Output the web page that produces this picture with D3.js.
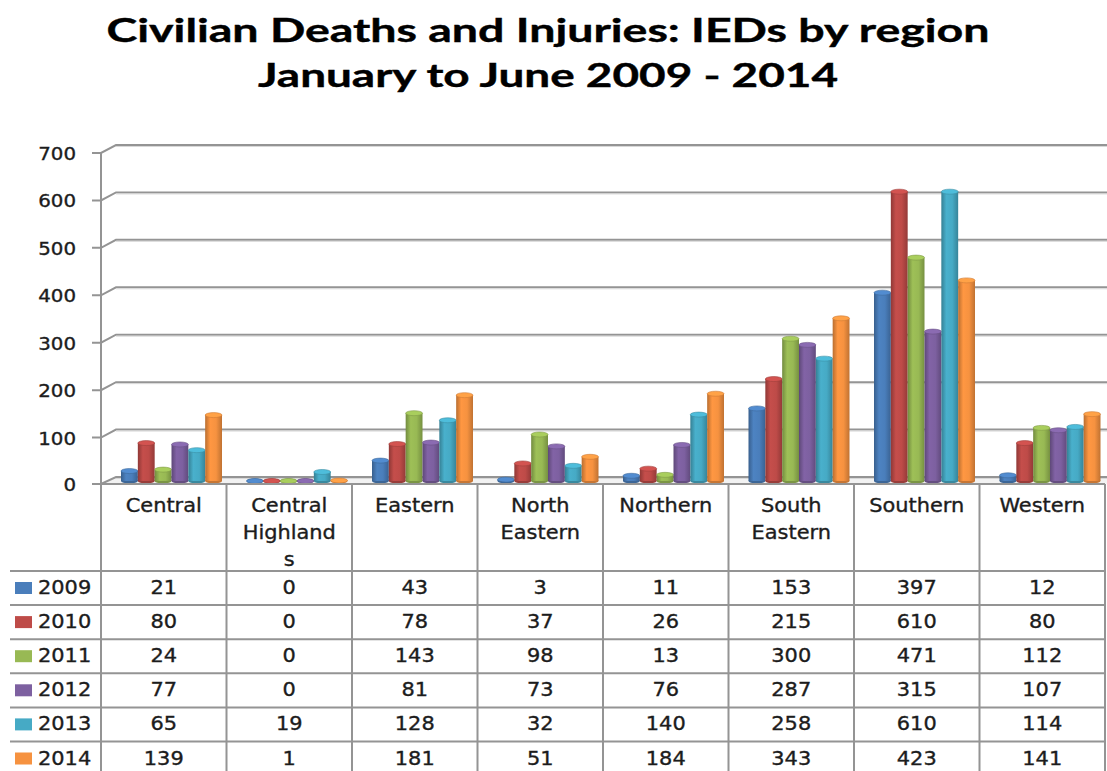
<!DOCTYPE html>
<html>
<head>
<meta charset="utf-8">
<script src="https://cdn.jsdelivr.net/npm/d3@7"></script>
<style>
  body { margin: 0; background: #fff; }
  text { font-family: "DejaVu Sans", sans-serif; fill: #1c1c1c; stroke: #1c1c1c; stroke-width: 0.35px; }
  .title { font-family: Lato, "Open Sans", sans-serif; font-weight: 700; fill: #000; stroke: #000; stroke-width: 0.4px; }
</style>
</head>
<body>
<svg width="1107" height="771"></svg>
<script>
var regions = ["Central", "Central Highlands", "Eastern", "North Eastern", "Northern", "South Eastern", "Southern", "Western"];
var regionLabels = [["Central"], ["Central", "Highland", "s"], ["Eastern"], ["North", "Eastern"], ["Northern"], ["South", "Eastern"], ["Southern"], ["Western"]];
var years = ["2009", "2010", "2011", "2012", "2013", "2014"];
var v2009 = [21, 0, 43, 3, 11, 153, 397, 12];
var v2010 = [80, 0, 78, 37, 26, 215, 610, 80];
var v2011 = [24, 0, 143, 98, 13, 300, 471, 112];
var v2012 = [77, 0, 81, 73, 76, 287, 315, 107];
var v2013 = [65, 19, 128, 32, 140, 258, 610, 114];
var v2014 = [139, 1, 181, 51, 184, 343, 423, 141];
var yTicks = [0, 100, 200, 300, 400, 500, 600, 700];
var colors = ["#4a7ebb", "#be4b48", "#98b954", "#7d60a0", "#46aac5", "#f69240"];

var series = [v2009, v2010, v2011, v2012, v2013, v2014];

var width = 1107, height = 771;
var svg = d3.select("svg");
var defs = svg.append("defs");

var left = 101, right = 1105;
var depthX = 15, depthY = 8;

var x = d3.scaleBand().domain(regions).range([left, right]);
var xInner = d3.scaleBand().domain(years).range([20, 121]);
var y = d3.scaleLinear().domain([0, 700]).range([481, 149]);

var sx = 1.1; // text is a bit wider than the font
function label(g, px, py, str, anchor, size){
    return g.append("text")
        .attr("transform", "translate(" + px + "," + py + ") scale(" + sx + ",1)")
        .attr("text-anchor", anchor || "middle")
        .style("font-size", (size || 19) + "px")
        .text(str);
}

// title
svg.append("text").classed("title", true)
    .attr("x", 548).attr("y", 42)
    .attr("text-anchor", "middle")
    .attr("textLength", 883).attr("lengthAdjust", "spacingAndGlyphs")
    .style("font-size", "33px")
    .text("Civilian Deaths and Injuries: IEDs by region");
svg.append("text").classed("title", true)
    .attr("x", 548).attr("y", 87)
    .attr("text-anchor", "middle")
    .attr("textLength", 580).attr("lengthAdjust", "spacingAndGlyphs")
    .style("font-size", "33px")
    .text("January to June 2009 - 2014");

// floor
svg.append("path")
    .attr("d", "M" + left + "," + (y(0) + 3) + "L" + (left + depthX) + "," + (y(0) - 4) +
               "L" + width + "," + (y(0) - 4) + "L" + width + "," + (y(0) + 3) + "Z")
    .attr("fill", "#f2f2f2");

// gridlines on the back wall + ticks
var grid = svg.append("g");
yTicks.forEach(function(t){
    var yf = y(t) + (t == 0 ? 3 : 4), yb = y(t) - 4;
    grid.append("path")
        .attr("d", "M" + (left - 9) + "," + yf + "L" + left + "," + yf +
                   "L" + (left + depthX) + "," + yb + "L" + width + "," + yb)
        .attr("fill", "none")
        .attr("stroke", "#949494")
        .attr("stroke-width", 2);
    grid.append("path")
        .attr("d", "M" + (left + depthX) + "," + (yb + 1.5) + "L" + width + "," + (yb + 1.5))
        .attr("stroke", "#d8d8d8").attr("stroke-width", 1);
    label(svg, 76, yf + 7, t, "end", 18);
});

// front axis line
svg.append("line")
    .attr("x1", left).attr("x2", left)
    .attr("y1", y(700) + 4).attr("y2", height)
    .attr("stroke", "#949494").attr("stroke-width", 2);

// gradients for cylinder look
colors.forEach(function(c, i){
    var grad = defs.append("linearGradient").attr("id", "g" + i);
    grad.append("stop").attr("offset", "0%").attr("stop-color", d3.color(c).darker(0.8));
    grad.append("stop").attr("offset", "30%").attr("stop-color", d3.color(c).brighter(0.1));
    grad.append("stop").attr("offset", "65%").attr("stop-color", c);
    grad.append("stop").attr("offset", "100%").attr("stop-color", d3.color(c).darker(0.7));
});

// bars
var bw = xInner.bandwidth();
var barGroups = svg.append("g").selectAll("g")
    .data(series)
    .enter()
    .append("g");

barGroups.each(function(vals, i){
    var g = d3.select(this);
    vals.forEach(function(v, j){
        var bx = x(regions[j]) + xInner(years[i]);
        var top = y(v), bottom = y(0);
        g.append("ellipse")
            .attr("cx", bx + bw / 2).attr("cy", bottom)
            .attr("rx", bw / 2).attr("ry", 2.5)
            .attr("fill", d3.color(colors[i]).darker(0.6));
        g.append("rect")
            .attr("x", bx).attr("y", top)
            .attr("width", bw).attr("height", bottom - top)
            .attr("fill", "url(#g" + i + ")");
        g.append("ellipse")
            .attr("cx", bx + bw / 2).attr("cy", top)
            .attr("rx", bw / 2).attr("ry", 2.5)
            .attr("fill", d3.color(colors[i]).brighter(0.3))
            .attr("stroke", d3.color(colors[i]).darker(0.5))
            .attr("stroke-width", 0.6);
    });
});

// data table
var tableTop = y(0) + 3;
var headerBottom = 571;
var rowH = 34.1;
var table = svg.append("g");

x.domain().forEach(function(r){
    table.append("line")
        .attr("x1", x(r) + x.bandwidth()).attr("x2", x(r) + x.bandwidth())
        .attr("y1", tableTop).attr("y2", height)
        .attr("stroke", "#949494").attr("stroke-width", 2);
});
table.append("line")
    .attr("x1", left).attr("x2", right)
    .attr("y1", tableTop).attr("y2", tableTop)
    .attr("stroke", "#949494").attr("stroke-width", 2);

years.forEach(function(yr, i){
    var ry = headerBottom + i * rowH;
    table.append("line")
        .attr("x1", 10).attr("x2", right)
        .attr("y1", ry).attr("y2", ry)
        .attr("stroke", "#949494").attr("stroke-width", 2);
    table.append("rect")
        .attr("x", 15).attr("y", ry + 11)
        .attr("width", 17).attr("height", 12)
        .attr("fill", colors[i]);
    label(table, 38, ry + 23, yr, "start", 19);
    series[i].forEach(function(v, j){
        label(table, x(regions[j]) + x.bandwidth() / 2, ry + 23, v, "middle", 19);
    });
});

regionLabels.forEach(function(lines, j){
    lines.forEach(function(l, k){
        label(table, x(regions[j]) + x.bandwidth() / 2, 512 + k * 27, l, "middle", 19);
    });
});
</script>
</body>
</html>
